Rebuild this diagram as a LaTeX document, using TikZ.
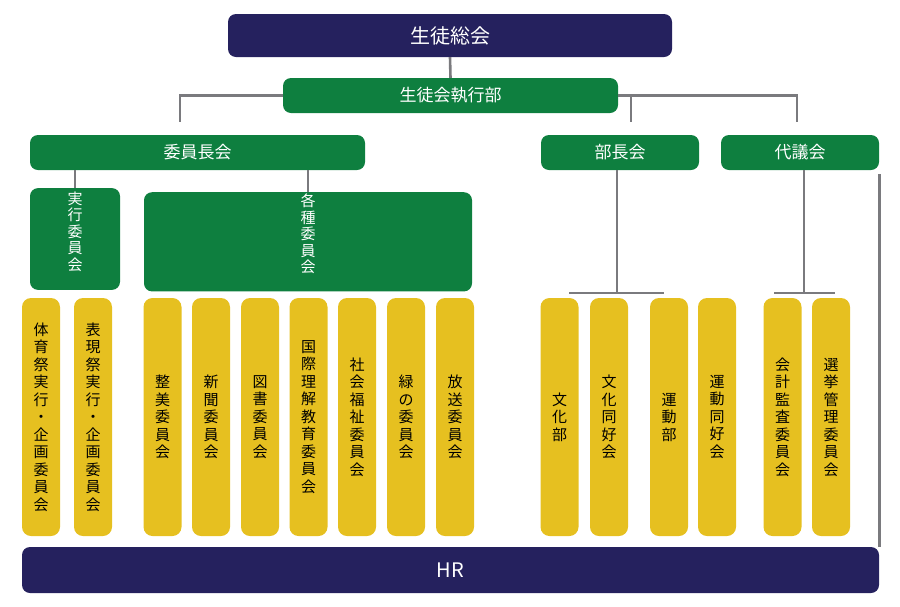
\documentclass[tikz,border=0pt]{standalone}
\usepackage{fontspec}
\setmainfont{Noto Sans CJK JP}
\usetikzlibrary{positioning,calc}
\definecolor{navy}{HTML}{25215E}
\definecolor{leaf}{HTML}{0E7F3F}
\definecolor{gold}{HTML}{E6C020}
\definecolor{wire}{HTML}{7A7A7E}
\ExplSyntaxOn
\NewDocumentCommand\vtext{m}{\exp_args:No \tl_map_inline:nn {#1}{##1\\}}
\ExplSyntaxOff

\begin{document}
\begin{tikzpicture}[x=1pt,y=-1pt,
    navybox/.style={fill=navy, rounded corners=8pt, text=white, font=\fontsize{20}{24}\selectfont},
    greenbox/.style={fill=leaf, rounded corners=8pt, text=white, font=\fontsize{17}{20}\selectfont},
    post/.style={fill=gold, rounded corners=9pt, minimum width=38pt, minimum height=238pt,
        text width=38pt, text=black, align=center, inner sep=0pt, font=\fontsize{15}{17.5}\selectfont},
    link/.style={draw=wire, line width=2.6pt}]
  \useasboundingbox (0,0) rectangle (900,606);

  % top level
  \node[navybox, minimum width=444pt, minimum height=43pt] (general) at (450,35.5) {生徒総会};
  \node[greenbox, minimum width=335pt, minimum height=35pt] (exec) at (450.5,95.5) {生徒会執行部};

  % second row
  \node[greenbox, minimum width=335pt, minimum height=35pt] (chairs) at (197.5,152.5) {委員長会};
  \node[greenbox, minimum width=158pt, minimum height=35pt] (clubs) at (620,152.5) {部長会};
  \node[greenbox, minimum width=158pt, minimum height=35pt] (reps) at (800,152.5) {代議会};

  % third row
  \node[greenbox, minimum width=90pt, minimum height=94pt, align=center,
        font=\fontsize{15}{16.5}\selectfont] (festcom) at (75,239) {\vtext{実行委員会}};
  \node[greenbox, minimum width=328pt, minimum height=94pt, align=center, anchor=north,
        inner sep=2pt, font=\fontsize{15}{16.5}\selectfont] (varcom) at (308,192) {\vtext{各種委員会}};

  % yellow columns
  \foreach \cx/\name/\txt in {41/sports/{体育祭実行・企画委員会}, 93/culture/{表現祭実行・企画委員会},
      162.5/env/整美委員会, 211/news/新聞委員会, 260/library/図書委員会,
      308.5/intl/国際理解教育委員会, 357/welfare/社会福祉委員会, 406/green/緑の委員会,
      455/radio/放送委員会, 559.5/bunka/文化部, 609/bunkado/文化同好会,
      669/undo/運動部, 717/undodo/運動同好会, 782.5/audit/会計監査委員会, 831/elect/選挙管理委員会}
    \node[post] (\name) at (\cx,417) {\vtext{\txt}};

  \node[navybox, minimum width=857pt, minimum height=46pt] (hr) at (450.5,570) {HR};

  % connectors
  \draw[link] (general.south) -- (exec.north);
  \draw[link] (exec.west) -- ++(-103,0) coordinate (lt) -- (lt |- 0,122);
  \draw[link] (exec.east) -- (797,95.5) -- (797,122);
  \draw[link] (631,95.5) -- (631,122);
  \draw[link] (chairs.south -| festcom.north) -- (festcom.north);
  \draw[link] (chairs.south -| varcom.north) -- (varcom.north);
  \draw[link] (617,170) -- (617,293);
  \draw[link] (569,293) -- (664,293);
  \draw[link] (804,170) -- (804,293);
  \draw[link] (774,293) -- (835,293);
  \draw[link] (reps.south east) ++(0,4) -- (hr.north -| reps.east);
\end{tikzpicture}
\end{document}
